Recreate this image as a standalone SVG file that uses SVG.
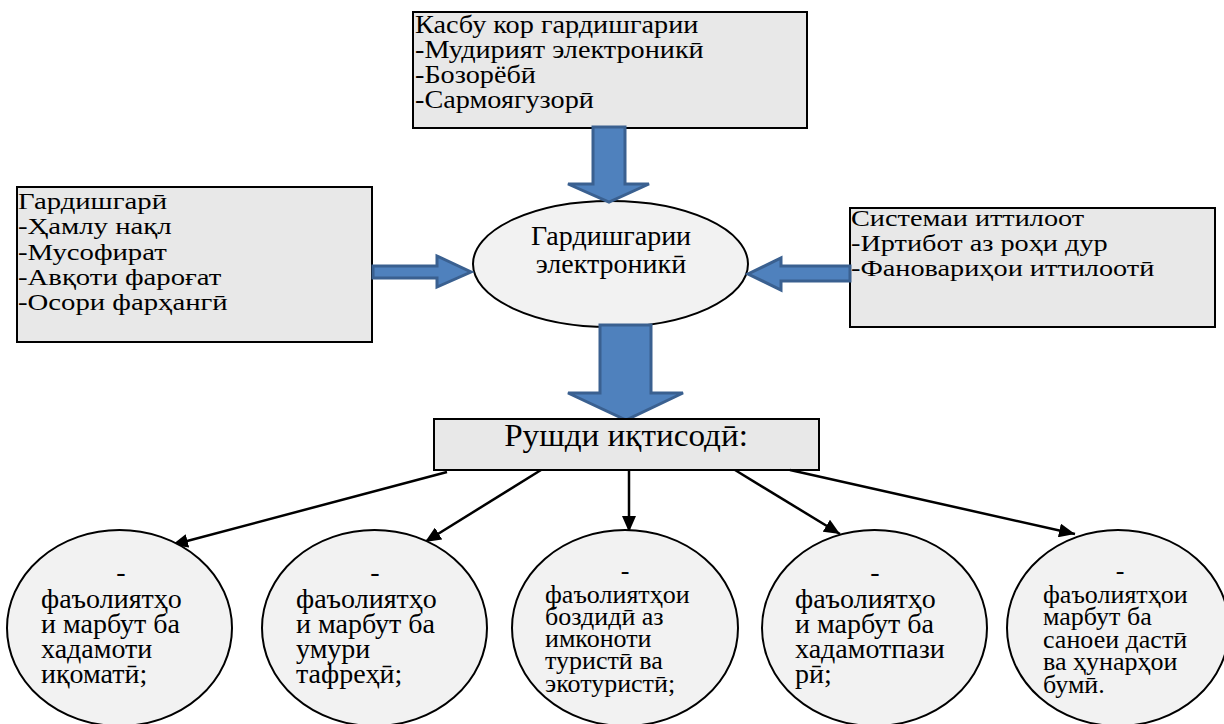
<svg xmlns="http://www.w3.org/2000/svg" width="1224" height="724" viewBox="0 0 1224 724">
<defs>
<style>
.box { fill: #e8e8e8; stroke: #000; stroke-width: 2; }
.ell { fill: #f2f2f2; stroke: #000; stroke-width: 2; }
.blk { fill: #4f81bd; stroke: #3a6090; stroke-width: 3; stroke-linejoin: miter; }
.c { text-anchor: middle; }
.con { stroke: #000; stroke-width: 2.5; fill: none; marker-end: url(#ah); }
</style>
<marker id="ah" markerUnits="userSpaceOnUse" markerWidth="16" markerHeight="14" refX="16" refY="7" orient="auto">
<path d="M0,0 L16,7 L0,14 z" fill="#000"/>
</marker>
</defs>
<rect width="1224" height="724" fill="#fff"/>

<g id="top-box">
<rect class="box" x="413" y="12" width="394" height="116"/>
<g transform="translate(415 0) scale(1.13 1)" font-size="25" font-family="Liberation Serif, serif">
<text x="0" y="33">Касбу кор гардишгарии</text>
<text x="0" y="58">-Мудирият электроникӣ</text>
<text x="0" y="83">-Бозорёбӣ</text>
<text x="0" y="108">-Сармоягузорӣ</text>
</g>
</g>

<g id="left-box">
<rect class="box" x="17" y="187" width="355" height="155"/>
<g transform="translate(18 0) scale(1.25 1)" font-size="23" font-family="Liberation Serif, serif">
<text x="0" y="209">Гардишгарӣ</text>
<text x="0" y="234">-Ҳамлу нақл</text>
<text x="0" y="260">-Мусофират</text>
<text x="0" y="285">-Авқоти фароғат</text>
<text x="0" y="310">-Осори фарҳангӣ</text>
</g>
</g>

<g id="right-box">
<rect class="box" x="850" y="208" width="365" height="119"/>
<g transform="translate(851 0) scale(1.23 1)" font-size="23" font-family="Liberation Serif, serif">
<text x="0" y="226">Системаи иттилоот</text>
<text x="0" y="251">-Иртибот аз роҳи дур</text>
<text x="0" y="276">-Фановариҳои иттилоотӣ</text>
</g>
</g>

<g id="center">
<ellipse class="ell" cx="610.5" cy="264" rx="137.5" ry="63"/>
<g font-size="28" font-family="Liberation Serif, serif">
<text class="c" x="611" y="245">Гардишгарии</text>
<text class="c" x="611" y="273">электроникӣ</text>
</g>
</g>

<g id="block-arrows">
<polygon class="blk" points="593,127 625,127 625,184 649,184 609,202 568,184 593,184"/>
<polygon class="blk" points="373,266 437,266 437,256 471,272 437,287 437,278 373,278"/>
<polygon class="blk" points="850,266 781,266 781,258 748,274 781,290 781,281 850,281"/>
<polygon class="blk" points="600,325 651,325 651,393 683,393 626,420 568,393 600,393"/>
</g>

<g id="rushd">
<rect class="box" x="434" y="419" width="385" height="51"/>
<g transform="translate(626 0) scale(1.07 1)" font-size="31" font-family="Liberation Serif, serif">
<text class="c" x="0" y="446">Рушди иқтисодӣ:</text>
</g>
</g>

<g id="connectors">
<line class="con" x1="447" y1="472" x2="172" y2="545"/>
<line class="con" x1="541" y1="470" x2="425" y2="542"/>
<line class="con" x1="629" y1="470" x2="629" y2="532"/>
<line class="con" x1="735" y1="470" x2="840" y2="534"/>
<line class="con" x1="790" y1="470" x2="1075" y2="534"/>
</g>

<g id="e1" font-size="28" font-family="Liberation Serif, serif">
<ellipse class="ell" cx="119.5" cy="628" rx="112.5" ry="98"/>
<text class="c" x="121" y="581">-</text>
<text x="41" y="608">фаъолиятҳо</text>
<text x="41" y="633">и марбут ба</text>
<text x="41" y="658">хадамоти</text>
<text x="41" y="683">иқоматӣ;</text>
</g>

<g id="e2" font-size="28" font-family="Liberation Serif, serif">
<ellipse class="ell" cx="374.5" cy="628" rx="112.5" ry="98"/>
<text class="c" x="375" y="581">-</text>
<text x="296" y="608">фаъолиятҳо</text>
<text x="296" y="633">и марбут ба</text>
<text x="296" y="658">умури</text>
<text x="296" y="683">тафреҳӣ;</text>
</g>

<g id="e3" font-size="26" font-family="Liberation Serif, serif">
<ellipse class="ell" cx="625" cy="628" rx="113" ry="98"/>
<text class="c" x="625" y="579">-</text>
<text x="545" y="603">фаъолиятҳои</text>
<text x="545" y="625">боздидӣ аз</text>
<text x="545" y="647">имконоти</text>
<text x="545" y="669">туристӣ ва</text>
<text x="545" y="692">экотуристӣ;</text>
</g>

<g id="e4" font-size="28" font-family="Liberation Serif, serif">
<ellipse class="ell" cx="874.5" cy="628" rx="112.5" ry="98"/>
<text class="c" x="875" y="581">-</text>
<text x="795" y="608">фаъолиятҳо</text>
<text x="795" y="633">и марбут ба</text>
<text x="795" y="658">хадамотпази</text>
<text x="795" y="683">рӣ;</text>
</g>

<g id="e5" font-size="26" font-family="Liberation Serif, serif">
<ellipse class="ell" cx="1118" cy="628" rx="111" ry="98"/>
<text class="c" x="1120" y="579">-</text>
<text x="1043" y="603">фаъолиятҳои</text>
<text x="1043" y="625">марбут ба</text>
<text x="1043" y="648">саноеи дастӣ</text>
<text x="1043" y="670">ва ҳунарҳои</text>
<text x="1043" y="693">бумӣ.</text>
</g>
</svg>
